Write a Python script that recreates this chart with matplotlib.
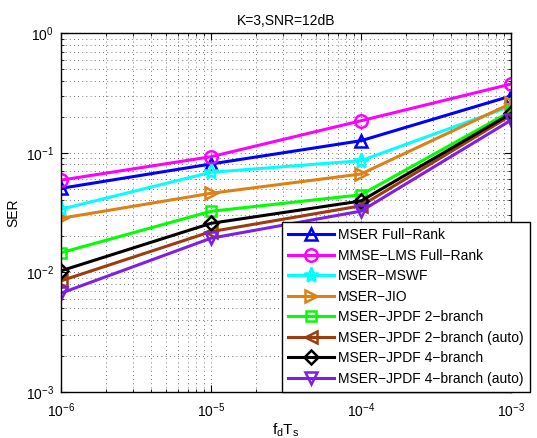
import numpy as np
import matplotlib
matplotlib.use('Agg')
import matplotlib.pyplot as plt
from matplotlib.ticker import LogLocator, NullFormatter

plt.rcParams['font.family'] = ['Liberation Sans', 'DejaVu Sans']
plt.rcParams['mathtext.fontset'] = 'custom'
plt.rcParams['mathtext.rm'] = 'Liberation Sans'
plt.rcParams['mathtext.it'] = 'Liberation Sans'
plt.rcParams['mathtext.default'] = 'regular'

fdTs = [1e-6, 1e-5, 1e-4, 1e-3]

mserFullRank = [0.0504, 0.0805, 0.126, 0.298]
mmseLmsFullRank = [0.059, 0.0926, 0.185, 0.375]
mserMswf = [0.0337, 0.0686, 0.0858, 0.245]
mserJio = [0.0283, 0.0458, 0.0664, 0.258]
jpdf2 = [0.0146, 0.0324, 0.0445, 0.222]
jpdf2auto = [0.0085, 0.0219, 0.0360, 0.205]
jpdf4 = [0.0103, 0.0257, 0.0395, 0.213]
jpdf4auto = [0.0067, 0.0193, 0.0325, 0.187]

labels = ['MSER Full\u2212Rank', 'MMSE\u2212LMS Full\u2212Rank', 'MSER\u2212MSWF', 'MSER\u2212JIO',
          'MSER\u2212JPDF 2\u2212branch', 'MSER\u2212JPDF 2\u2212branch (auto)',
          'MSER\u2212JPDF 4\u2212branch', 'MSER\u2212JPDF 4\u2212branch (auto)']
series = [mserFullRank, mmseLmsFullRank, mserMswf, mserJio, jpdf2, jpdf2auto, jpdf4, jpdf4auto]
colors = ['#0000ff', '#ff00ff', '#00ffff', '#de8014', '#00ff00', '#9c3c0c', '#000000', '#7f1fe6']
markers = ['^', 'o', '*', '>', 's', '<', 'D', 'v']
msizes = [9, 9, 11, 9, 7, 9, 7, 9]

fig = plt.figure(figsize=(5.37, 4.38), dpi=100)
ax = fig.add_axes([0.1136, 0.105, 0.838, 0.8195])

for y, lab, c, m, ms in zip(series, labels, colors, markers, msizes):
    ax.plot(fdTs, y, color=c, marker=m, markersize=ms, markerfacecolor='none',
            markeredgecolor=c, markeredgewidth=1.8, linewidth=2.2, label=lab)

ax.set_xscale('log')
ax.set_yscale('log')
ax.set_xlim(1e-6, 1e-3)
ax.set_ylim(1e-3, 1e0)
ax.xaxis.set_minor_locator(LogLocator(base=10, subs=np.arange(2, 10)))
ax.yaxis.set_minor_locator(LogLocator(base=10, subs=np.arange(2, 10)))
ax.xaxis.set_minor_formatter(NullFormatter())
ax.yaxis.set_minor_formatter(NullFormatter())
ax.grid(True, which='both', linestyle=(0, (1, 4)), color='#444444', linewidth=0.6)
ax.tick_params(which='both', direction='in', top=True, right=True, labelsize=10)
ax.tick_params(which='major', length=5)
ax.tick_params(which='minor', length=2.5)
ax.tick_params(axis='x', which='major', pad=7)
ax.tick_params(axis='y', which='major', pad=5)
for s in ax.spines.values():
    s.set_linewidth(1.0)

ax.set_title('K=3,SNR=12dB', fontsize=10)
ax.set_ylabel('SER', fontsize=10)
ax.set_xlabel(r'$\mathrm{f_dT_s}$', fontsize=11, labelpad=1)

leg = ax.legend(loc='lower right', bbox_to_anchor=(530 / 537, 46 / 438),
                bbox_transform=fig.transFigure, fontsize=10, handlelength=3.3,
                labelspacing=0.47, borderpad=0.45, handletextpad=0.3, fancybox=False,
                framealpha=1, edgecolor='black', borderaxespad=0)
leg.get_frame().set_linewidth(1.0)

plt.savefig('out.png', dpi=100)
